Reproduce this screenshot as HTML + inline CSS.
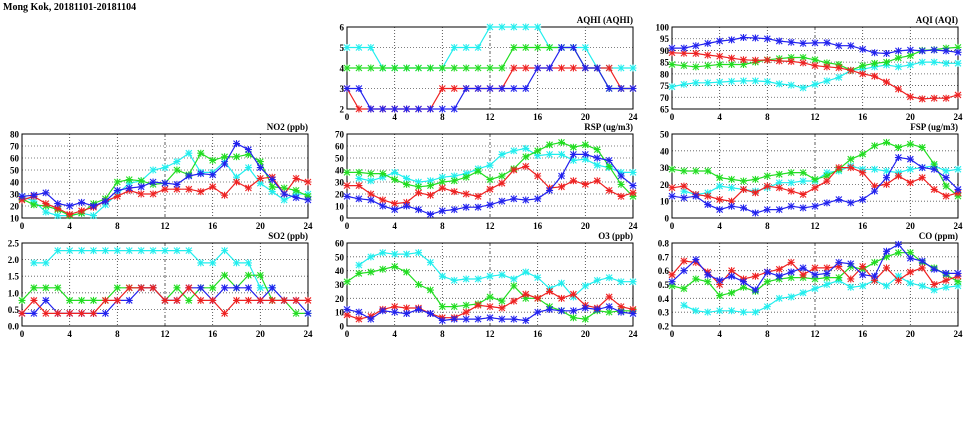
<!DOCTYPE html>
<html><head><meta charset="utf-8">
<style>
html,body{margin:0;padding:0;background:#fff;}
svg{display:block;}
text{font-family:"Liberation Serif",serif;font-weight:bold;fill:#000;}
</style></head>
<body>
<svg id="chart" width="975" height="447" viewBox="0 0 975 447">
<text x="3" y="10" font-size="10">Mong Kok, 20181101-20181104</text>
</svg>
<script>
const hours = [0,1,2,3,4,5,6,7,8,9,10,11,12,13,14,15,16,17,18,19,20,21,22,23,24];
const xTickLabels = ["0","4","8","12","16","20","24"];
const N = null;
// AQHI
const aqhiCyan = [5,5,5,4,4,4,4,4,4,5,5,5,6,6,6,6,6,5,5,5,5,4,4,4,4];
const aqhiGreen = [4,4,4,4,4,4,4,4,4,4,4,4,4,4,5,5,5,5,5,5,4,4,3,3,3];
const aqhiRed = [3,2,2,2,2,2,2,2,3,3,3,3,3,3,4,4,4,4,4,4,4,4,4,3,3];
const aqhiBlue = [3,3,2,2,2,2,2,2,2,2,3,3,3,3,3,3,4,4,5,5,4,4,3,3,3];
// AQI
const aqiBlue = [91,91,92,93,94,94.5,95.5,95.3,95,94,93.5,93,93.2,93.3,92,92,90.5,89,88.7,89.8,90.2,89.8,90.2,89.8,89.2];
const aqiRed = [89,88.8,88.7,88,87.5,86.7,86,85.8,85.9,85.5,85.3,84.7,83.5,83,82.6,81.5,80,79,76.5,73.5,70.2,69.3,69.6,69.6,71];
const aqiGreen = [84,83.5,83,83.5,84,84,84,85,86,86.5,87,87,86,84.7,84,81.5,83.5,84.5,85,86.8,87.8,90,90.3,91,91.3];
const aqiCyan = [74.5,75.5,76.2,76.2,76.5,76.8,77,77,76.7,75.7,75.2,74,75.5,77,78.5,81.5,82,83,83.8,83,83.8,85,85,84.5,84.5];
// NO2
const no2Blue = [28,29,31,22,20,23,20,24,33,35,36,40,39,38,45,47,46,55,72,67,52,42,30,27,25];
const no2Red = [25,28,22,18,13,16,19,24,28,33,30,30,34,34,34,32,36,29,40,35,43,44,30,43,40];
const no2Green = [26,21,20,17,12,14,22,26,40,42,41,38,39,50,46,64,58,61,61,63,57,36,35,33,28];
const no2Cyan = [28,24,15,12,12,14,12,21,30,39,41,50,52,57,64,48,48,57,44,52,39,32,25,30,30];
// RSP
const rspBlue = [18,16,15,10,7,10,7,3,6,7,9,9,11,14,16,15,16,23,35,53,53,50,48,35,27];
const rspRed = [27,27,20,15,12,13,21,19,25,22,20,18,24,29,40,43,35,25,26,31,28,31,23,18,21];
const rspGreen = [38,38,37,37,32,28,26,27,30,31,34,39,32,35,41,51,56,61,63,59,61,57,43,28,18];
const rspCyan = [N,33,31,34,38,33,30,31,34,35,37,41,44,53,56,58,52,53,53,48,49,44,42,38,38];
// FSP
const fspBlue = [13,12,13,8,5,7,6,3,5,5,7,6,7,9,11,9,11,16,24,36,35,30,29,24,17];
const fspRed = [18,19,14,13,11,10,17,15,19,18,16,14,18,22,30,30,27,19,20,25,21,24,17,13,15];
const fspGreen = [29,28,28,28,24,23,22,23,25,26,27,27,23,25,29,35,38,43,45,42,44,42,32,19,13];
const fspCyan = [N,16,14,15,19,18,17,16,18,21,21,22,22,27,28,31,29,29,28,27,29,30,31,28,29];
// SO2
const so2Cyan = [N,1.9,1.9,2.27,2.27,2.27,2.27,2.27,2.27,2.27,2.27,2.27,2.27,2.27,2.27,1.9,1.9,2.27,1.9,1.9,1.15,1.15,N,N,N];
const so2Green = [0.77,1.15,1.15,1.15,0.77,0.77,0.77,0.77,1.15,1.15,1.15,1.15,0.77,1.15,0.77,1.15,1.15,1.53,1.15,1.53,1.53,0.77,0.77,0.38,0.38];
const so2Blue = [0.38,0.38,0.77,0.38,0.38,0.38,0.38,0.38,0.77,0.77,1.15,1.15,0.77,0.77,1.15,1.15,0.77,1.15,1.15,1.15,0.77,1.15,0.77,0.77,0.38];
const so2Red = [0.38,0.77,0.38,0.38,0.38,0.38,0.38,0.77,0.77,1.15,1.15,1.15,0.77,0.77,1.15,0.77,0.77,0.38,0.77,0.77,0.77,0.77,0.77,0.77,0.77];
// O3
const o3Cyan = [N,44,50,53,52,52,53,46,36,33,34,34,36,37,34,39,35,27,31,21,29,33,35,32,32];
const o3Green = [32,38,39,41,43,39,30,26,14,14,15,16,21,18,29,20,20,14,11,6,5,11,10,11,11];
const o3Red = [8,5,7,12,14,13,13,9,6,6,10,15,14,13,18,23,20,25,20,23,15,13,21,14,12];
const o3Blue = [12,10,5,11,10,9,12,9,4,5,5,5,6,5,5,4,10,12,11,11,13,12,14,10,9];
// CO
const coBlue = [0.52,0.60,0.68,0.57,0.53,0.56,0.52,0.46,0.59,0.56,0.59,0.62,0.57,0.58,0.66,0.65,0.57,0.56,0.74,0.79,0.69,0.67,0.61,0.58,0.58];
const coRed = [0.57,0.67,0.66,0.59,0.50,0.60,0.54,0.56,0.59,0.61,0.66,0.57,0.62,0.62,0.63,0.54,0.63,0.53,0.62,0.53,0.59,0.62,0.50,0.53,0.56];
const coGreen = [0.49,0.47,0.54,0.52,0.42,0.44,0.48,0.45,0.52,0.54,0.55,0.55,0.54,0.55,0.55,0.63,0.61,0.66,0.70,0.73,0.73,0.66,0.62,0.57,0.52];
const coCyan = [N,0.35,0.31,0.30,0.31,0.31,0.30,0.30,0.34,0.40,0.41,0.44,0.47,0.50,0.53,0.48,0.49,0.53,0.49,0.56,0.51,0.49,0.46,0.48,0.49];

const COLORS = {cyan:"#22eeee", green:"#22dd22", red:"#ee2222", blue:"#2222ee"};
const svg = document.getElementById('chart');
const NS = "http://www.w3.org/2000/svg";
function mk(tag, attrs, parent){
  const e = document.createElementNS(NS, tag);
  for (const k in attrs) e.setAttribute(k, attrs[k]);
  (parent||svg).appendChild(e);
  return e;
}
const COLX = [22, 347, 672];
const ROWY = [[27,109],[134,218],[243,326]];
const W = 286;

function panel(key, title, col, row, ymin, ymax, step, dec, series){
  const x0 = COLX[col], x1 = x0 + W, yt = ROWY[row][0], yb = ROWY[row][1];
  const g = mk('g', {});
  
  
  const xs = h => x0 + (h/24)*W;
  const ys = v => yb - (v - ymin)/(ymax - ymin)*(yb - yt);
  // grid
  const nT = Math.round((ymax - ymin)/step);
  for (let i = 0; i <= nT; i++){
    const v = ymin + i*step, y = ys(v);
    if (i > 0 && i < nT){
      const gl = mk('line', {x1:x0, x2:x1, y1:y, y2:y, stroke:"#555", 'stroke-width':0.8, 'stroke-dasharray':"1,2"}, g);
      
      
    }
    const t = mk('text', {x:x0-3, y:y+3.5, 'font-size':9, 'text-anchor':'end'}, g);
    t.textContent = v.toFixed(dec);
    
    
  }
  xTickLabels.forEach((lab, i) => {
    const h = +lab, x = xs(h);
    if (h > 0 && h < 24){
      const gl = mk('line', {x1:x, x2:x, y1:yt, y2:yb, stroke:"#333", 'stroke-width':0.8, 'stroke-dasharray': h===12 ? "3,2,1,2" : "1,2"}, g);
      
      
    }
    const t = mk('text', {x:x, y:yb+11, 'font-size':9, 'text-anchor':'middle'}, g);
    t.textContent = lab;
    
    
  });
  const fr = mk('rect', {x:x0, y:yt, width:W, height:yb-yt, fill:'none', stroke:'#000', 'stroke-width':1}, g);
  
  
  const tt = mk('text', {x:x1, y:yt-4, 'font-size':9, 'text-anchor':'end'}, g);
  tt.textContent = title;
  
  
  series.forEach(([cname, arr]) => {
    const c = COLORS[cname];
    let d = "", pen = false;
    arr.forEach((v, h) => {
      if (v === null){ pen = false; return; }
      d += (pen ? "L" : "M") + xs(h).toFixed(1) + "," + ys(v).toFixed(1);
      pen = true;
    });
    const p = mk('path', {d:d, fill:'none', stroke:c, 'stroke-width':1.2}, g);
    
    
    arr.forEach((v, h) => {
      if (v === null) return;
      const x = xs(h), y = ys(v);
      const m = mk('path', {d:`M${x-3},${y-3}L${x+3},${y+3}M${x-3},${y+3}L${x+3},${y-3}M${x},${y-3.5}L${x},${y+3.5}M${x-3.5},${y}L${x+3.5},${y}`, stroke:c, 'stroke-width':1.1, fill:'none'}, g);
      
      
    });
  });
}
panel('aqhi', 'AQHI (AQHI)', 1, 0, 2, 6, 1, 0, [['cyan',aqhiCyan],['green',aqhiGreen],['red',aqhiRed],['blue',aqhiBlue]]);
panel('aqi', 'AQI (AQI)', 2, 0, 65, 100, 5, 0, [['cyan',aqiCyan],['green',aqiGreen],['red',aqiRed],['blue',aqiBlue]]);
panel('no2', 'NO2 (ppb)', 0, 1, 10, 80, 10, 0, [['cyan',no2Cyan],['green',no2Green],['red',no2Red],['blue',no2Blue]]);
panel('rsp', 'RSP (ug/m3)', 1, 1, 0, 70, 10, 0, [['cyan',rspCyan],['green',rspGreen],['red',rspRed],['blue',rspBlue]]);
panel('fsp', 'FSP (ug/m3)', 2, 1, 0, 50, 10, 0, [['cyan',fspCyan],['green',fspGreen],['red',fspRed],['blue',fspBlue]]);
panel('so2', 'SO2 (ppb)', 0, 2, 0, 2.5, 0.5, 1, [['cyan',so2Cyan],['green',so2Green],['blue',so2Blue],['red',so2Red]]);
panel('o3', 'O3 (ppb)', 1, 2, 0, 60, 10, 0, [['cyan',o3Cyan],['green',o3Green],['red',o3Red],['blue',o3Blue]]);
panel('co', 'CO (ppm)', 2, 2, 0.2, 0.8, 0.1, 1, [['cyan',coCyan],['green',coGreen],['red',coRed],['blue',coBlue]]);
</script>
</body></html>
